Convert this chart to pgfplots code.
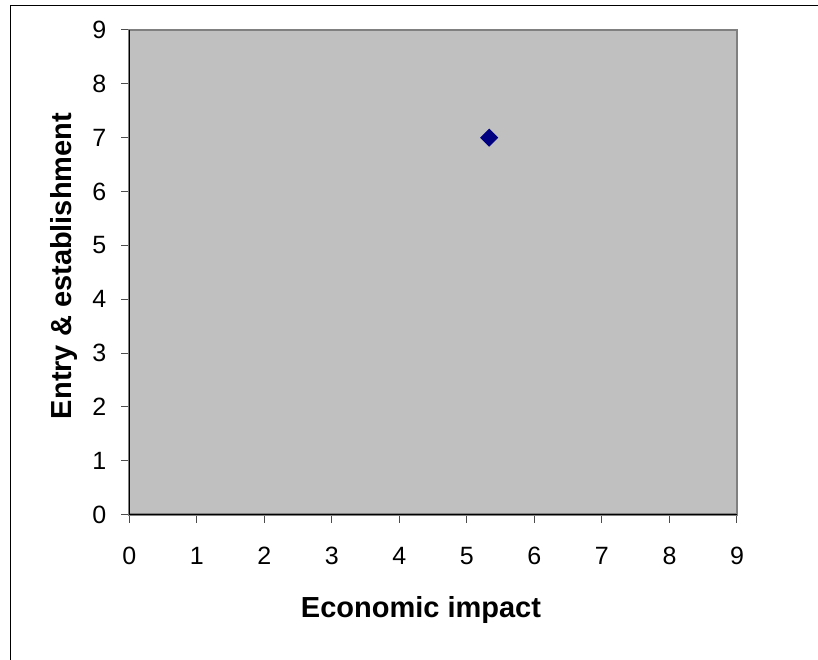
\documentclass[border=0pt]{standalone}
\usepackage{fontspec}
\setmainfont{Liberation Sans}
\usepackage{pgfplots}
\pgfplotsset{compat=1.18}
\definecolor{plotgray}{HTML}{C0C0C0}
\definecolor{edgegray}{HTML}{808080}
\definecolor{navymark}{HTML}{000080}
\begin{document}
\begin{tikzpicture}
\useasboundingbox (0,0) rectangle (409pt,329.5pt);
% outer chart frame (only top and left edges fall inside the picture)
\draw[line width=0.6pt] (5.15pt,-5pt) -- (5.15pt,326.65pt) -- (415pt,326.65pt);
\begin{axis}[
    at={(64.65pt,72.25pt)}, anchor=south west,
    scale only axis, width=303.85pt, height=242.25pt,
    xmin=0, xmax=9, ymin=0, ymax=9,
    xtick={0,1,...,9}, ytick={0,1,...,9},
    xtick pos=left, ytick pos=left,
    tick align=outside, major tick length=4pt,
    tick style={black!70, line width=0.5pt},
    axis background/.style={fill=plotgray},
    axis line style={draw=edgegray, line width=1.1pt},
    /pgf/number format/assume math mode=true,
    ticklabel style={font=\fontsize{12.5}{15}\selectfont, inner sep=0pt},
    xticklabel style={anchor=base, yshift=-21pt},
    yticklabel style={anchor=east, xshift=-7.25pt},
    label style={font=\fontsize{14.5}{17}\selectfont\bfseries},
    xlabel={Economic impact},
    ylabel={Entry \& establishment},
    xlabel style={at={(axis description cs:0.480,-0.2116)}, anchor=base},
    ylabel style={at={(axis description cs:-0.0943,0.513)}, anchor=base},
    after end axis/.code={
        \draw[black, line width=0.6pt] (rel axis cs:0,1) -- (rel axis cs:0,0) -- (rel axis cs:1,0);
    },
]
\addplot[only marks, mark=square*, mark size=3pt,
    mark options={rotate=45, fill=navymark, draw=navymark}]
    coordinates {(5.33,7.0)};
\end{axis}
\end{tikzpicture}
\end{document}
